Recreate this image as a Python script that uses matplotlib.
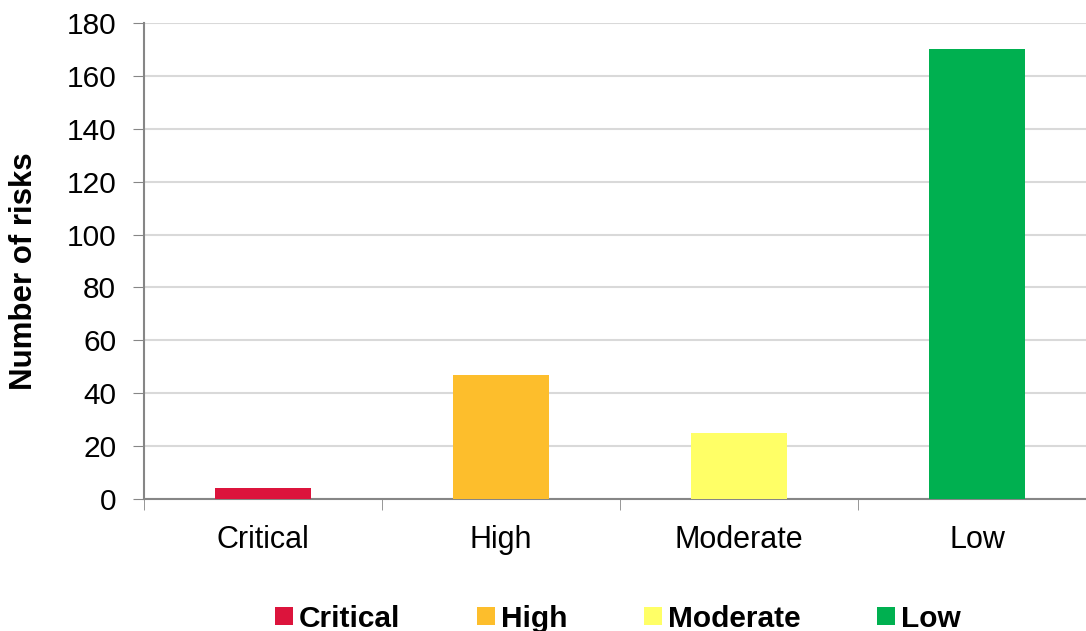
import matplotlib.pyplot as plt
from matplotlib.patches import Patch
from matplotlib.ticker import FixedLocator, NullFormatter

plt.rcParams['font.family'] = ['Liberation Sans', 'DejaVu Sans']

categories = ['Critical', 'High', 'Moderate', 'Low']
counts = [4, 47, 25, 170]
colors = ['#DC143C', '#FDBE2C', '#FFFF66', '#00B050']
yticks = [0, 20, 40, 60, 80, 100, 120, 140, 160, 180]

fig = plt.figure(figsize=(10.86, 6.31), dpi=100)
ax = fig.add_axes([0.1326, 0.2092, 0.8766, 0.7544])

x = list(range(len(categories)))
ax.bar(x, counts, width=0.4, color=colors, edgecolor='none', zorder=3)

ax.set_xlim(-0.5, 3.5)
ax.set_ylim(0, 180)
ax.set_yticks(yticks)
ax.tick_params(axis='y', labelsize=21.5, length=8, color='#868686', pad=12)
ax.set_xticks(x)
ax.set_xticklabels(categories)
ax.tick_params(axis='x', which='major', length=0, labelsize=22, pad=19)
ax.xaxis.set_minor_locator(FixedLocator([-0.5, 0.5, 1.5, 2.5, 3.5]))
ax.xaxis.set_minor_formatter(NullFormatter())
ax.tick_params(axis='x', which='minor', length=8, color='#868686')

ax.grid(axis='y', color='#D9D9D9', linewidth=1.5, zorder=0)
for s in ['top', 'right']:
    ax.spines[s].set_visible(False)
for s in ['left', 'bottom']:
    ax.spines[s].set_color('#868686')
    ax.spines[s].set_linewidth(1.5)

ax.set_ylabel('Number of risks', fontsize=22.5, fontweight='bold',
              va='center')
ax.yaxis.set_label_coords(-0.126, 0.479)

handles = [Patch(facecolor=c, edgecolor='none') for c in colors]
fig.legend(handles, categories, loc='lower center', ncol=4, frameon=False,
           bbox_to_anchor=(0.569, -0.045), prop={'size': 21.5, 'weight': 'bold'},
           handlelength=0.6, handleheight=0.6, handletextpad=0.22,
           columnspacing=2.55)

fig.savefig('out.png', dpi=100)
